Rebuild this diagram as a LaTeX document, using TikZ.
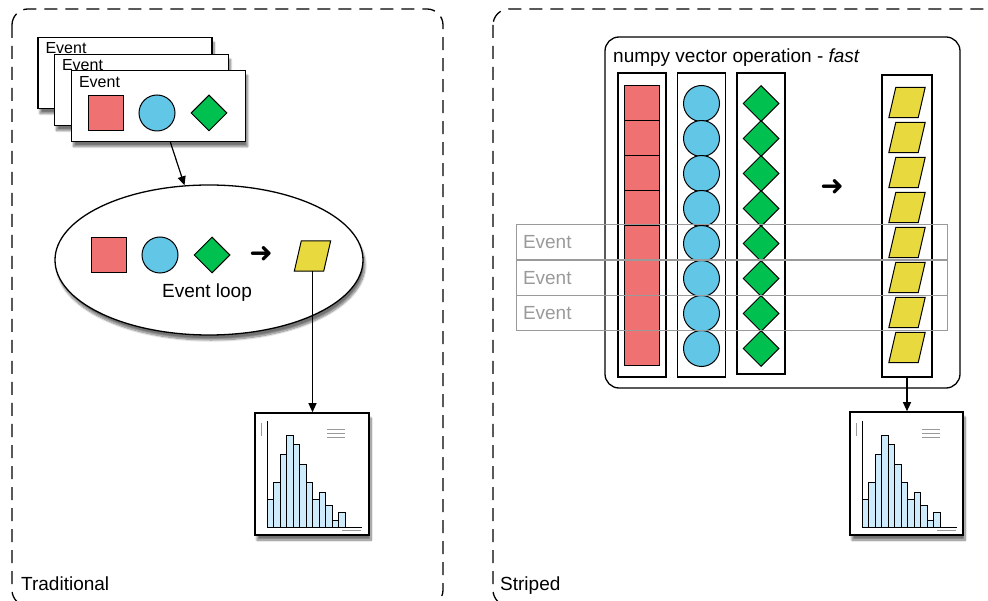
\documentclass[tikz,border=0pt]{standalone}
\usepackage{fontspec}
\setmainfont{Liberation Sans}
\newfontfamily\symfont{DejaVu Sans}
\usetikzlibrary{arrows.meta,shapes.geometric,shadows.blur}

\definecolor{sqred}{HTML}{F07172}
\definecolor{dotblue}{HTML}{62C6E6}
\definecolor{gemgreen}{HTML}{00C04F}
\definecolor{paryellow}{HTML}{E8D93F}
\definecolor{barblue}{HTML}{CDEBFA}
\definecolor{stripgray}{HTML}{9A9A9A}

% histogram drawn inside a plot box node
\newcommand{\histbars}[1]{%
  \begin{scope}[shift={(#1.south west)}]
    \foreach \h [count=\i from 0] in {28,45,73,92,83,63,45,28,35,22,7,15}
      \draw[fill=barblue,line width=1pt] (13+\i*6.5,-8) rectangle ++(6.5,-\h);
    \draw[stripgray,line width=1.2pt] (7,-113) -- (7,-100);
    \foreach \y in {-106,-102,-98}
      \draw[stripgray,line width=1pt] (73,\y) -- (91,\y);
    \draw[stripgray,line width=1pt] (88,-5) -- (107,-5);
    \draw[line width=1.2pt] (13,-115) -- (13,-8) -- (108,-8);
  \end{scope}}

% slanted yellow output box
\newcommand{\yelpar}[3]{%
  \node[minimum width=29pt,minimum height=30pt,inner sep=0pt] (#1) at (#2,#3) {};
  \draw[fill=paryellow,line width=1pt] ([xshift=-3.5pt]#1.south west) -- ([xshift=3.5pt]#1.north west)
      -- ([xshift=3.5pt]#1.north east) -- ([xshift=-3.5pt]#1.south east) -- cycle;}

\begin{document}
\begin{tikzpicture}[x=1pt,y=-1pt,
    font=\fontsize{19}{22}\selectfont,
    panel/.style={draw,line width=1.3pt,dash pattern=on 13pt off 8pt,rounded corners=16pt},
    shade/.style={blur shadow={shadow xshift=2pt,shadow yshift=-5pt,shadow blur steps=10,shadow opacity=55}},
    card/.style={draw,fill=white,line width=1.3pt,minimum width=174pt,minimum height=71pt,inner sep=0pt,shade},
    cardlbl/.style={anchor=north west,inner sep=2pt,font=\fontsize{16}{18}\selectfont},
    plotbox/.style={draw,fill=white,line width=1.6pt,minimum width=114pt,minimum height=122pt,inner sep=0pt,shade},
    column/.style={draw,line width=1.2pt,minimum width=48pt,minimum height=304pt,inner sep=0pt},
    redbox/.style={draw,fill=sqred,line width=1pt,minimum size=35pt,inner sep=0pt},
    bluedot/.style={circle,draw,fill=dotblue,line width=1pt,minimum size=36pt,inner sep=0pt},
    greengem/.style={diamond,draw,fill=gemgreen,line width=1pt,minimum size=36pt,inner sep=0pt},
    strip/.style={draw=stripgray,line width=1pt,text=stripgray,text width=417pt,align=left,
                  inner xsep=7pt,inner ysep=0pt,minimum height=35pt},
    fatarrow/.style={font=\symfont\fontsize{28}{30}\selectfont,inner sep=0pt},
    >={Triangle[length=9pt,width=8pt]}]

\useasboundingbox (0,0) rectangle (988,601);
\clip (0,0) rectangle (988,601);

% the two panels
\draw[panel] (12,9) rectangle (443,606);
\draw[panel] (493,9) rectangle (1010,606);
\node[anchor=base west,inner sep=0pt] (tradlbl) at (21,590) {Traditional};
\node[anchor=base west,inner sep=0pt] (striplbl) at (500,590) {Striped};

%% traditional
\node[card] (card1) at (125,73)    {};
\node[cardlbl] (card1lbl) at ([shift={(6,3)}]card1.north west) {Event};
\node[card] (card2) at (141.5,90)  {};
\node[cardlbl] (card2lbl) at ([shift={(6,3)}]card2.north west) {Event};
\node[card] (card3) at (158.5,106) {};
\node[cardlbl] (card3lbl) at ([shift={(6,4)}]card3.north west) {Event};
\node[redbox]   (cardsq)  at (105.5,113) {};
\node[bluedot]  (cardcir) at (157,113)   {};
\node[greengem] (cardgem) at (209,113)   {};

\node[ellipse,draw,fill=white,line width=1.3pt,minimum width=308pt,minimum height=150pt,inner sep=0pt,shade]
    (loop) at (209,260) {};
\node[redbox]    (loopsq)  at (109,255)   {};
\node[bluedot]   (loopcir) at (160,255)   {};
\node[greengem]  (loopgem) at (212,255)   {};
\node[fatarrow]  (looparr) at (261,255)   {➜};
\yelpar{looppar}{312.5}{256}
\node (looplbl) at (207,293) {Event loop};

\node[plotbox] (hist1) at (312,474) {};
\histbars{hist1}

\draw[->,line width=1.2pt] (card3) -- (loop);
\draw[->,line width=1.2pt] (looppar.south) -- (looppar.south |- hist1.north);

%% striped
\node[draw,line width=1.3pt,rounded corners=14pt,minimum width=355pt,minimum height=351pt,inner sep=0pt]
    (vecop) at (782.5,212.5) {};
\node[anchor=base west,inner sep=0pt] (vecoplbl) at (613,63) {numpy vector operation - \textit{fast}};

\node[column] (redcol)  at (642,225)   {};
\node[column] (bluecol) at (701.5,225) {};
\node[column,minimum height=301pt] (gemcol) at (761,223.5) {};
\node[column,minimum width=50pt,minimum height=302pt] (yelcol) at (907,226) {};

\foreach \k in {0,...,7} {
    \node[redbox]    (sq\k)  at (641.5,103.5+35*\k) {};
    \node[bluedot]   (cir\k) at (701.5,103.5+35*\k) {};
    \node[greengem]  (gem\k) at (761,103.5+35*\k)   {};
    \yelpar{par\k}{907}{102.5+35*\k}
}
\node[fatarrow] (vecarr) at (832,188) {➜};

\foreach \r/\y in {1/242.5,2/278,3/313}
    \node[strip] (ev\r) at (731.5,\y) {Event};

\node[plotbox,minimum width=113pt,minimum height=123pt] (hist2) at (906.5,473.5) {};
\histbars{hist2}

\draw[->,line width=1.2pt] (yelcol.south) -- (yelcol.south |- hist2.north);
\end{tikzpicture}
\end{document}
